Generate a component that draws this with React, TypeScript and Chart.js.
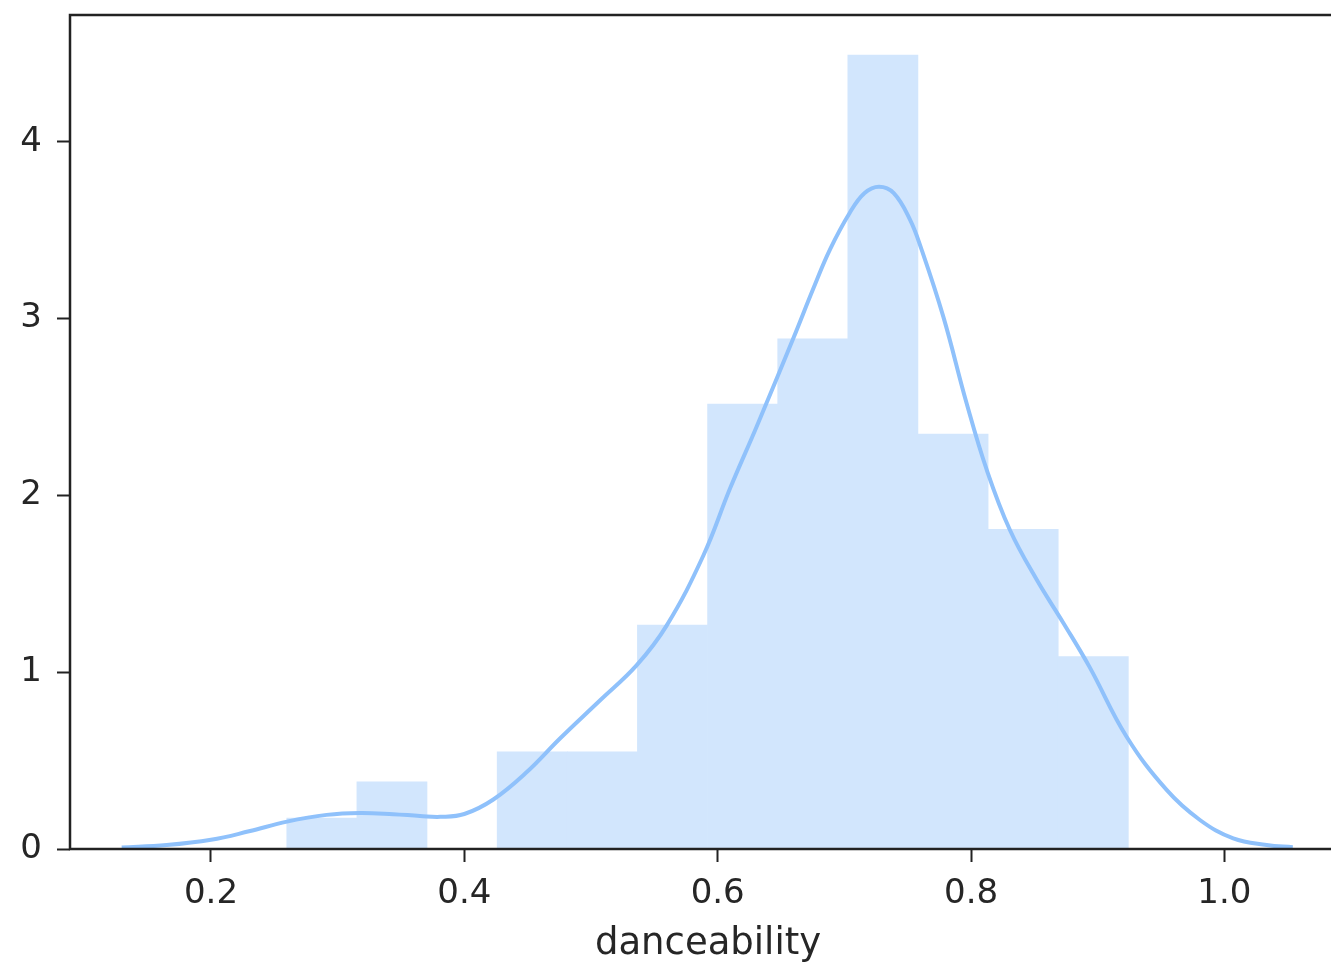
import React, { useEffect, useRef } from 'react';
import { Chart, registerables } from 'chart.js';

Chart.register(...registerables);

// Histogram bin edges (danceability) and density heights
const binEdges = [0.2598, 0.3152, 0.3705, 0.4259, 0.4813, 0.5366, 0.592, 0.6474, 0.7027, 0.7581, 0.8135, 0.8688, 0.9242];
const binDensity = [0.175, 0.38, 0, 0.55, 0.55, 1.267, 2.517, 2.885, 4.491, 2.347, 1.808, 1.088];

// KDE curve samples
const kdeX = [0.1295, 0.165, 0.2, 0.23, 0.26, 0.2913, 0.3176, 0.3439, 0.365, 0.381, 0.4, 0.4229, 0.4493, 0.4755, 0.507, 0.5361, 0.5598, 0.5887, 0.6098, 0.6308, 0.6598, 0.6755, 0.6886, 0.7044, 0.716, 0.7273, 0.739, 0.7518, 0.7605, 0.7781, 0.7965, 0.8124, 0.8307, 0.852, 0.873, 0.8935, 0.9228, 0.9544, 0.9807, 1.007, 1.0334, 1.054];
const kdeY = [0.008, 0.022, 0.052, 0.1, 0.155, 0.193, 0.204, 0.197, 0.187, 0.182, 0.198, 0.28, 0.435, 0.625, 0.84, 1.04, 1.265, 1.66, 2.04, 2.39, 2.89, 3.17, 3.39, 3.6, 3.71, 3.746, 3.71, 3.56, 3.4, 3.011, 2.521, 2.144, 1.804, 1.521, 1.277, 1.03, 0.635, 0.334, 0.164, 0.06, 0.023, 0.01];

const xTicks = [0.2, 0.4, 0.6, 0.8, 1.0];
const yTicks = [0, 1, 2, 3, 4];
const xLabel = 'danceability';

const X_MIN = 0.0887;
const X_MAX = 1.096;
const Y_MIN = 0;
const Y_MAX = 4.717;

const TEXT = '#262626';
const SPINE = '#222222';
const FONT = 'DejaVu Sans';

export default function App() {
  const ref = useRef<HTMLCanvasElement>(null);

  useEffect(() => {
    const canvas = ref.current;
    if (!canvas) return;
    const spines = {
      id: 'spines',
      afterDatasetsDraw(chart: any) {
        const { ctx, chartArea } = chart;
        const { left, right, top, bottom } = chartArea;
        ctx.save();
        ctx.strokeStyle = SPINE;
        ctx.lineWidth = 2.5;
        ctx.strokeRect(left, top, right - left, bottom - top);
        ctx.restore();
      },
    };
    const chart = new Chart(canvas, {
      type: 'bar',
      data: {
        datasets: [
          {
            type: 'line',
            data: kdeX.map((x, i) => ({ x, y: kdeY[i] })),
            borderColor: '#8fc1fb',
            borderWidth: 4,
            pointRadius: 0,
            tension: 0.4,
            fill: false,
            order: 0,
          } as any,
          {
            type: 'bar',
            data: binDensity.map((y, i) => ({ x: (binEdges[i] + binEdges[i + 1]) / 2, y })),
            backgroundColor: 'rgb(210,230,253)',
            borderWidth: 0,
            barPercentage: 1,
            categoryPercentage: 1,
            order: 1,
          } as any,
        ],
      },
      options: {
        animation: false,
        responsive: false,
        devicePixelRatio: 1,
        layout: { padding: { top: 15, left: 0, right: 0, bottom: 0 } },
        plugins: { legend: { display: false }, tooltip: { enabled: false } },
        scales: {
          x: {
            type: 'linear',
            offset: false,
            min: X_MIN,
            max: X_MAX,
            afterBuildTicks: (s: any) => {
              s.ticks = xTicks.map((v) => ({ value: v }));
            },
            afterFit: (s: any) => {
              s.height = 116;
              s.paddingLeft = 0;
              s.paddingRight = 0;
            },
            grid: { offset: false, drawOnChartArea: false, drawTicks: true, tickLength: 13, tickColor: SPINE, tickWidth: 2 },
            border: { display: false },
            ticks: {
              padding: 12,
              color: TEXT,
              font: { family: FONT, size: 34 },
              maxRotation: 0,
              autoSkip: false,
              callback: (v: any) => Number(v).toFixed(1),
            },
            title: {
              display: true,
              text: xLabel,
              color: TEXT,
              font: { family: FONT, size: 37, lineHeight: 1.1 },
              padding: { top: 0, bottom: 0 },
            },
          } as any,
          y: {
            type: 'linear',
            min: Y_MIN,
            max: Y_MAX,
            afterBuildTicks: (s: any) => {
              s.ticks = yTicks.map((v) => ({ value: v }));
            },
            afterFit: (s: any) => {
              s.width = 70;
              s.paddingTop = 0;
              s.paddingBottom = 0;
            },
            grid: { offset: false, drawOnChartArea: false, drawTicks: true, tickLength: 13, tickColor: SPINE, tickWidth: 2 },
            border: { display: false },
            ticks: {
              padding: 15,
              color: TEXT,
              font: { family: FONT, size: 34 },
              autoSkip: false,
              callback: (v: any) => String(v),
            },
          } as any,
        },
      },
      plugins: [spines],
    });
    return () => chart.destroy();
  }, []);

  return (
    <div
      style={{
        position: 'fixed',
        left: 0,
        top: 0,
        width: 1331,
        height: 965,
        overflow: 'hidden',
        background: '#ffffff',
      }}
    >
      <canvas ref={ref} width={1346} height={965} style={{ display: 'block' }} />
    </div>
  );
}
